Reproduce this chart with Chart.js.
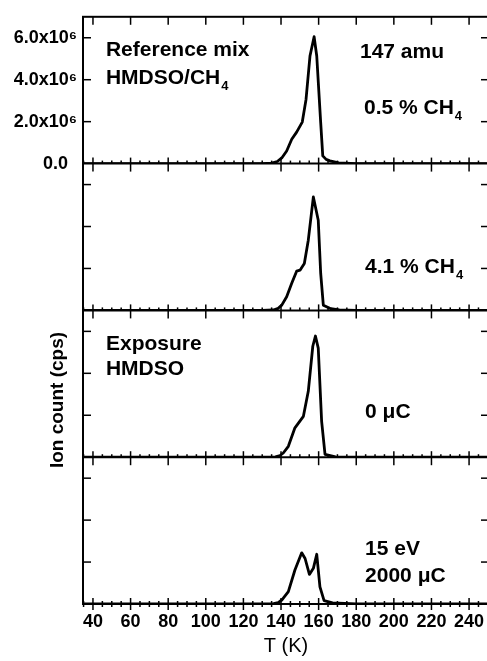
<!DOCTYPE html>
<html><head><meta charset="utf-8">
<script src="https://cdn.jsdelivr.net/npm/chart.js@4/dist/chart.umd.min.js"></script>
<style>
html,body{margin:0;padding:0;background:#fff;overflow:hidden;width:487px;height:661px}
#wrap{position:relative;width:492px;height:661px}
canvas{display:block}
</style></head>
<body><div id="wrap"><canvas id="c" width="492" height="661"></canvas></div>
<script>
// ---- data (T in K, ion count in cps) ----
const tempsA  = [35,100,130,135,138,140.4,143,145.7,148.3,151.3,153.3,155.4,157.6,159,161.1,162.2,164,166,170.7,180,250];
const countsA = [0,0,0,0.02e6,0.1e6,0.27e6,0.6e6,1.16e6,1.5e6,1.98e6,3.06e6,5.13e6,6.05e6,5.13e6,1.95e6,0.37e6,0.2e6,0.13e6,0.03e6,0,0];

const tempsB  = [35,100,130,135.9,138.5,140.4,143,145.7,148.3,150.1,152.4,154.5,157.2,159.8,161.1,162.5,166.5,171,180,250];
const countsB = [0,0,0,0.02e6,0.1e6,0.25e6,0.65e6,1.29e6,1.87e6,1.92e6,2.24e6,3.35e6,5.41e6,4.3e6,1.76e6,0.25e6,0.08e6,0.02e6,0,0];

const tempsC  = [35,100,130,137,139.5,141.2,143.9,147.4,151.9,154.5,156.9,158.3,159.8,161.6,163.4,169,180,250];
const countsC = [0,0,0,0.02e6,0.08e6,0.2e6,0.52e6,1.4e6,1.95e6,3.14e6,5.29e6,5.78e6,5.2e6,1.71e6,0.13e6,0.02e6,0,0];

const tempsD  = [35,100,130,136,138.5,140.4,143.9,147.4,151,152.8,155.1,157.2,159,160.7,162.9,167.4,180,250];
const countsD = [0,0,0,0.02e6,0.07e6,0.19e6,0.59e6,1.62e6,2.44e6,2.17e6,1.41e6,1.7e6,2.37e6,0.82e6,0.16e6,0.05e6,0,0];

const xTickValues = [40,60,80,100,120,140,160,180,200,220,240];
const yTickValues = [0,2e6,4e6,6e6];
const yTickLabels = ['0.0\u2002','2.0x10\u2076','4.0x10\u2076','6.0x10\u2076'];

const panelNotes = [
  {panel:0, T:46.9,  v:5.14e6, text:'Reference mix'},
  {panel:0, T:46.9,  v:3.81e6, text:'HMDSO/CH', sub:'4'},
  {panel:0, T:182,   v:5.05e6, text:'147 amu'},
  {panel:0, T:184.1, v:2.38e6, text:'0.5 % CH', sub:'4'},
  {panel:1, T:184.7, v:1.76e6, text:'4.1 % CH', sub:'4'},
  {panel:2, T:46.9,  v:5.1e6,  text:'Exposure'},
  {panel:2, T:46.9,  v:3.9e6,  text:'HMDSO'},
  {panel:2, T:184.7, v:1.86e6, text:'0 \u03BCC'},
  {panel:3, T:184.7, v:2.33e6, text:'15 eV'},
  {panel:3, T:184.7, v:1.05e6, text:'2000 \u03BCC'}
];

const FONT = '"Liberation Sans", Arial, sans-serif';
const panelIds = ['y0','y1','y2','y3'];
const series = [[tempsA,countsA],[tempsB,countsB],[tempsC,countsC],[tempsD,countsD]];

const datasets = series.map((s,i)=>({
  data: s[0].map((t,k)=>({x:t, y:s[1][k]})),
  yAxisID: panelIds[i],
  borderColor:'#000', borderWidth:2.8, pointRadius:0, tension:0,
  borderJoinStyle:'round', borderCapStyle:'round', fill:false
}));

function yScale(showLabels){
  return {
    type:'linear', position:'left', stack:'panels', stackWeight:1, offset:false,
    min:0, max:7.0e6,
    grid:{display:false, drawTicks:false}, border:{display:false},
    afterBuildTicks:(s)=>{ s.ticks = yTickValues.map(v=>({value:v})); },
    afterFit:(s)=>{ s.width = 83; },
    ticks:{
      display: showLabels,
      padding:6, color:'#000',
      font:{family:FONT, size:18, weight:'bold'},
      callback:(v,i)=> yTickLabels[i]
    }
  };
}

const framePlugin = {
  id:'frame',
  afterDatasetsDraw(chart){
    const ctx = chart.ctx, ca = chart.chartArea, xs = chart.scales.x;
    const line=(x1,y1,x2,y2)=>{ctx.beginPath();ctx.moveTo(x1,y1);ctx.lineTo(x2,y2);ctx.stroke();};
    ctx.save();
    ctx.strokeStyle='#000';
    ctx.lineWidth=2;
    ctx.strokeRect(ca.left, ca.top, ca.right-ca.left, ca.bottom-ca.top);
    ctx.lineWidth=1.5;
    panelIds.forEach((id,i)=>{
      const s = chart.scales[id];
      const yb = s.getPixelForValue(0), yt = s.getPixelForValue(s.max);
      ctx.lineWidth=2;
      line(ca.left, yb, ca.right, yb);
      ctx.lineWidth=1.5;
      for(let t=35; t<=250; t+=5){
        const px = xs.getPixelForValue(t);
        const major = t%20===0;
        line(px, yb, px, yb-(major?6:3));
        if(major) line(px, yt, px, yt+8);
        if(i===3) line(px, yb, px, yb+(major?6:3));
      }
      yTickValues.slice(1).forEach(v=>{
        const py = s.getPixelForValue(v);
        line(ca.left, py, ca.left+8, py);
        line(ca.right, py, ca.right-8, py);
      });
    });
    // annotations
    ctx.fillStyle='#000';
    ctx.textBaseline='alphabetic';
    ctx.textAlign='left';
    panelNotes.forEach(n=>{
      const s = chart.scales[panelIds[n.panel]];
      const px = xs.getPixelForValue(n.T), py = s.getPixelForValue(n.v);
      ctx.font = 'bold 21px '+FONT;
      ctx.fillText(n.text, px, py);
      if(n.sub){
        const w = ctx.measureText(n.text).width;
        ctx.font = 'bold 13px '+FONT;
        ctx.fillText(n.sub, px+w+1, py+6);
      }
    });
    // y-axis title
    ctx.save();
    ctx.translate(58, 400);
    ctx.rotate(-Math.PI/2);
    ctx.textAlign='center'; ctx.textBaseline='middle';
    ctx.font='bold 19px '+FONT;
    ctx.fillText('Ion count (cps)', 0, 0);
    ctx.restore();
    ctx.restore();
  }
};

// stacked left scales are laid out last-defined at top, so list bottom panel first
const scales = {
  x:{
    type:'linear', position:'bottom', min:34.7, max:250.6,
    grid:{display:false, drawTicks:false}, border:{display:false},
    afterBuildTicks:(s)=>{ s.ticks = xTickValues.map(v=>({value:v})); },
    afterFit:(s)=>{ s.height = 57; },
    ticks:{padding:7, color:'#000', maxRotation:0, autoSkip:false,
      font:{family:FONT, size:18, weight:'bold'}},
    title:{display:true, text:'T (K)', color:'#000',
      font:{family:FONT, size:20}, padding:{top:0,bottom:3}}
  },
  y3: yScale(false),
  y2: yScale(false),
  y1: yScale(false),
  y0: yScale(true)
};

new Chart(document.getElementById('c'), {
  type:'line',
  data:{datasets},
  options:{
    responsive:false, animation:false, devicePixelRatio:1,
    layout:{padding:{top:15, right:3, left:0, bottom:0}},
    plugins:{legend:{display:false}, tooltip:{enabled:false}},
    scales
  },
  plugins:[framePlugin]
});
</script>
</body></html>
